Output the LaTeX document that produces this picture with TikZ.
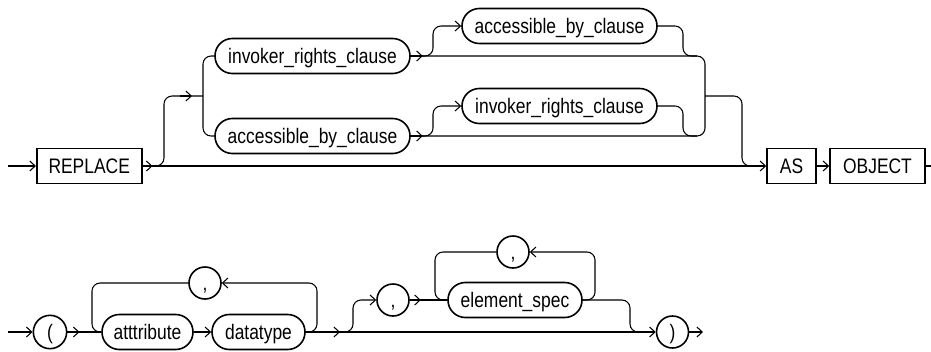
\documentclass[tikz,border=0pt]{standalone}
\usepackage{fontspec}
\setmainfont[FakeStretch=0.83]{Liberation Sans}
\usetikzlibrary{arrows.meta}
\newcommand\rrfont{\fontsize{15.75pt}{18pt}\selectfont}
\begin{document}
\begin{tikzpicture}[x=0.75pt,y=-0.75pt,
  line width=0.8pt,
  arr/.style={-{Straight Barb[length=4pt,width=7.5pt]}},
  rc/.style={rounded corners=6pt},
  txt/.style={font=\rrfont, text height=11.3pt, text depth=0pt},
  kw/.style={draw, rectangle, line width=1.2pt, minimum height=26.25pt, inner sep=0pt, txt},
  ntm/.style={draw, rectangle, rounded corners=13pt, line width=1.2pt, minimum height=26.25pt, inner sep=0pt, txt},
  circ/.style={draw, circle, line width=1.2pt, minimum size=25pt, inner sep=0pt, txt}]
\useasboundingbox (0,0) rectangle (931,351);

% ---------- row 1 ----------
\coordinate (s1) at (8,166);
\node[kw, minimum width=78.75pt] (replace) at (89.2,166) {REPLACE};
\node[ntm, minimum width=146.25pt] (inv1) at (312.5,56) {invoker\_rights\_clause};
\node[ntm, minimum width=146.25pt] (acc1) at (312.5,136) {accessible\_by\_clause};
\node[ntm, minimum width=146.25pt] (acc2) at (559.5,26) {accessible\_by\_clause};
\node[ntm, minimum width=146.25pt] (inv2) at (559.5,106) {invoker\_rights\_clause};
\node[kw, minimum width=36.75pt] (as) at (791.5,166) {AS};
\node[kw, minimum width=71.25pt] (obj) at (877.5,166) {OBJECT};
\coordinate (e1) at (931,166);

\draw[arr] (s1) -- (replace.west);
\draw[arr] (replace.east) -- (as.west);
\draw[arr] (replace.east) -- ++(10,0);
\coordinate (j1) at (203,96);
\draw[rc] (150,166) -| (164,96) -- (j1);
\draw[arr] (180,96) -- (192,96);
\draw[rc] (inv1.west) -| (203,136) -- (acc1.west);

% upper alternative
\draw[arr] (inv1.east) -- ++(12,0);
\draw[rc] (inv1.east) -| (705,136) -- (acc1.east);
\draw[rc,arr] (422,56) -| (433,26) -- (acc2.west);
\draw[rc] (acc2.east) -| (683,56) -- (697,56);
% lower alternative
\draw[arr] (acc1.east) -- ++(12,0);
\draw[rc,arr] (422,136) -| (433,106) -- (inv2.west);
\draw[rc] (inv2.east) -| (683,136) -- (697,136);
% exit to AS
\draw[rc] (705,96) -| (742,166) -- (755,166);
\draw[arr] (as.east) -- (obj.west);
\draw (obj.east) -- (e1);

% ---------- row 2 ----------
\coordinate (s2) at (8,332);
\node[circ] (lp) at (50,332) {(};
\node[ntm, minimum width=68.25pt] (attr) at (147.5,332) {atttribute};
\node[ntm, minimum width=69.75pt] (dt) at (258.5,332) {datatype};
\node[circ, minimum size=24pt] (c1) at (205,283) {,};
\node[circ, minimum size=24pt] (c2) at (393,300) {,};
\node[ntm, minimum width=100.5pt] (es) at (515,300) {element\_spec};
\node[circ, minimum size=24pt] (c3) at (513,252) {,};
\node[circ, minimum size=24pt] (rp) at (672.5,332) {)};
\coordinate (e2) at (703,332);

\draw[arr] (s2) -- (lp.west);
\draw[arr] (lp.east) -- ++(12,0);
\draw (lp.east) -- (attr.west);
\draw[arr] (attr.east) -- (dt.west);
\draw[rc] (c1.west) -| (92,332) -- (100,332);
\draw[rc,arr] (dt.east) -| (317,283) -- (c1.east);
\draw[arr] (dt.east) -- (rp.west);
\draw[arr] (330,332) -- (340,332);
\draw[rc,arr] (343,332) -| (353,300) -- (c2.west);
\draw[arr] (c2.east) -- ++(11,0);
\draw (c2.east) -- (es.west);
\draw[rc] (c3.west) -| (435,300) -- (445,300);
\draw[rc,arr] (es.east) -| (595,252) -- (c3.east);
\draw[rc] (es.east) -| (630,332) -- (645,332);
\draw[arr] (rp.east) -- (e2);
\end{tikzpicture}
\end{document}
